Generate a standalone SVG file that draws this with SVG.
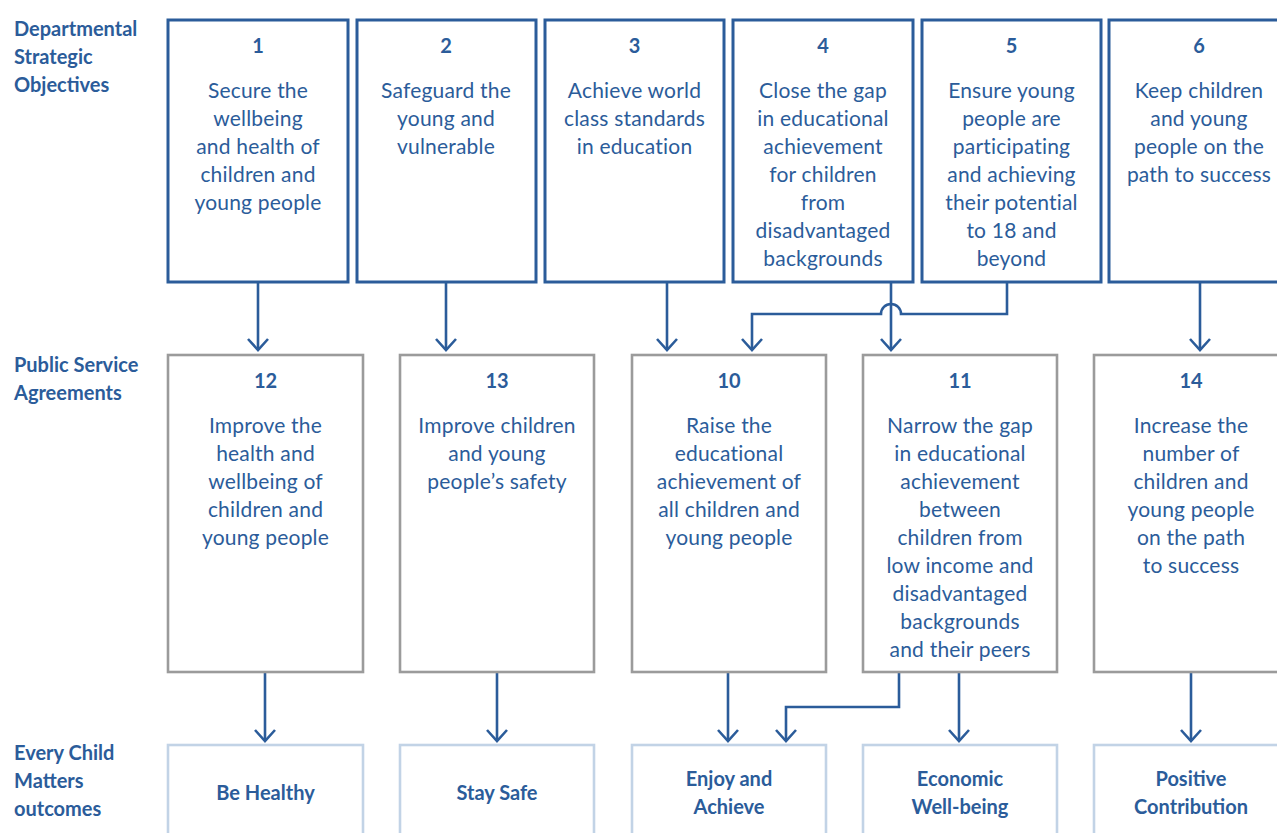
<svg xmlns="http://www.w3.org/2000/svg" width="1277" height="833" viewBox="0 0 1277 833">
<defs>
<style>
.bg{fill:#ffffff}
.top{fill:#fff;stroke:#2b5c9a;stroke-width:3}
.mid{fill:#fff;stroke:#9b9b9b;stroke-width:2.6}
.bot{fill:#fff;stroke:#c2d3e6;stroke-width:2.6}
.t{font-family:Lato,"Noto Sans",sans-serif;font-size:21px;fill:#2b5c9a;text-anchor:middle;letter-spacing:0.2px}
.n{font-family:Lato,"Noto Sans",sans-serif;font-size:20px;font-weight:bold;fill:#2b5c9a;text-anchor:middle}
.b{font-family:Lato,"Noto Sans",sans-serif;font-size:20px;font-weight:bold;fill:#2b5c9a;text-anchor:middle}
.lab{font-family:Lato,"Noto Sans",sans-serif;font-size:20px;font-weight:bold;fill:#2b5c9a}
.c{fill:none;stroke:#2b5c9a;stroke-width:2.6}
</style>
<marker id="ah" markerUnits="userSpaceOnUse" viewBox="-13 -12 16 24" refX="0" refY="0" markerWidth="16" markerHeight="24" orient="auto">
<path d="M-11,-10 L0,0 L-11,10" fill="none" stroke="#2b5c9a" stroke-width="2.6"/>
</marker>
</defs>
<rect class="bg" x="0" y="0" width="1277" height="833"/>

<g id="labels">
<text class="lab" x="14" y="36">Departmental</text>
<text class="lab" x="14" y="64">Strategic</text>
<text class="lab" x="14" y="92">Objectives</text>
<text class="lab" x="14" y="372">Public Service</text>
<text class="lab" x="14" y="400">Agreements</text>
<text class="lab" x="14" y="760">Every Child</text>
<text class="lab" x="14" y="788">Matters</text>
<text class="lab" x="14" y="816">outcomes</text>
</g>

<g id="connectors">
<path class="c" marker-end="url(#ah)" d="M258,282 V350"/>
<path class="c" marker-end="url(#ah)" d="M446,282 V350"/>
<path class="c" marker-end="url(#ah)" d="M667,282 V350"/>
<path class="c" marker-end="url(#ah)" d="M891,282 V350"/>
<path class="c" marker-end="url(#ah)" d="M1007,282 V314 H901 A10,10 0 0 0 881,314 H752 V350"/>
<path class="c" marker-end="url(#ah)" d="M1200,282 V350"/>
<path class="c" marker-end="url(#ah)" d="M265,672 V741"/>
<path class="c" marker-end="url(#ah)" d="M497,672 V741"/>
<path class="c" marker-end="url(#ah)" d="M728,672 V741"/>
<path class="c" marker-end="url(#ah)" d="M899,672 V707 H786 V741"/>
<path class="c" marker-end="url(#ah)" d="M959,672 V741"/>
<path class="c" marker-end="url(#ah)" d="M1191,672 V741"/>
</g>

<g id="dso1">
<rect class="top" x="168" y="20" width="180" height="262"/>
<text class="n" x="258" y="53">1</text>
<text class="t" x="258" y="98">Secure the</text>
<text class="t" x="258" y="126">wellbeing</text>
<text class="t" x="258" y="154">and health of</text>
<text class="t" x="258" y="182">children and</text>
<text class="t" x="258" y="210">young people</text>
</g>
<g id="dso2">
<rect class="top" x="357" y="20" width="179" height="262"/>
<text class="n" x="446" y="53">2</text>
<text class="t" x="446" y="98">Safeguard the</text>
<text class="t" x="446" y="126">young and</text>
<text class="t" x="446" y="154">vulnerable</text>
</g>
<g id="dso3">
<rect class="top" x="545" y="20" width="179" height="262"/>
<text class="n" x="634.5" y="53">3</text>
<text class="t" x="634.5" y="98">Achieve world</text>
<text class="t" x="634.5" y="126">class standards</text>
<text class="t" x="634.5" y="154">in education</text>
</g>
<g id="dso4">
<rect class="top" x="733" y="20" width="180" height="262"/>
<text class="n" x="823" y="53">4</text>
<text class="t" x="823" y="98">Close the gap</text>
<text class="t" x="823" y="126">in educational</text>
<text class="t" x="823" y="154">achievement</text>
<text class="t" x="823" y="182">for children</text>
<text class="t" x="823" y="210">from</text>
<text class="t" x="823" y="238">disadvantaged</text>
<text class="t" x="823" y="266">backgrounds</text>
</g>
<g id="dso5">
<rect class="top" x="922" y="20" width="179" height="262"/>
<text class="n" x="1011.5" y="53">5</text>
<text class="t" x="1011.5" y="98">Ensure young</text>
<text class="t" x="1011.5" y="126">people are</text>
<text class="t" x="1011.5" y="154">participating</text>
<text class="t" x="1011.5" y="182">and achieving</text>
<text class="t" x="1011.5" y="210">their potential</text>
<text class="t" x="1011.5" y="238">to 18 and</text>
<text class="t" x="1011.5" y="266">beyond</text>
</g>
<g id="dso6">
<rect class="top" x="1109" y="20" width="180" height="262"/>
<text class="n" x="1199" y="53">6</text>
<text class="t" x="1199" y="98">Keep children</text>
<text class="t" x="1199" y="126">and young</text>
<text class="t" x="1199" y="154">people on the</text>
<text class="t" x="1199" y="182">path to success</text>
</g>

<g id="psa12">
<rect class="mid" x="168" y="355" width="195" height="317"/>
<text class="n" x="265.5" y="388">12</text>
<text class="t" x="265.5" y="433">Improve the</text>
<text class="t" x="265.5" y="461">health and</text>
<text class="t" x="265.5" y="489">wellbeing of</text>
<text class="t" x="265.5" y="517">children and</text>
<text class="t" x="265.5" y="545">young people</text>
</g>
<g id="psa13">
<rect class="mid" x="400" y="355" width="194" height="317"/>
<text class="n" x="497" y="388">13</text>
<text class="t" x="497" y="433">Improve children</text>
<text class="t" x="497" y="461">and young</text>
<text class="t" x="497" y="489">people’s safety</text>
</g>
<g id="psa10">
<rect class="mid" x="632" y="355" width="194" height="317"/>
<text class="n" x="729" y="388">10</text>
<text class="t" x="729" y="433">Raise the</text>
<text class="t" x="729" y="461">educational</text>
<text class="t" x="729" y="489">achievement of</text>
<text class="t" x="729" y="517">all children and</text>
<text class="t" x="729" y="545">young people</text>
</g>
<g id="psa11">
<rect class="mid" x="863" y="355" width="194" height="317"/>
<text class="n" x="960" y="388">11</text>
<text class="t" x="960" y="433">Narrow the gap</text>
<text class="t" x="960" y="461">in educational</text>
<text class="t" x="960" y="489">achievement</text>
<text class="t" x="960" y="517">between</text>
<text class="t" x="960" y="545">children from</text>
<text class="t" x="960" y="573">low income and</text>
<text class="t" x="960" y="601">disadvantaged</text>
<text class="t" x="960" y="629">backgrounds</text>
<text class="t" x="960" y="657">and their peers</text>
</g>
<g id="psa14">
<rect class="mid" x="1094" y="355" width="195" height="317"/>
<text class="n" x="1191" y="388">14</text>
<text class="t" x="1191" y="433">Increase the</text>
<text class="t" x="1191" y="461">number of</text>
<text class="t" x="1191" y="489">children and</text>
<text class="t" x="1191" y="517">young people</text>
<text class="t" x="1191" y="545">on the path</text>
<text class="t" x="1191" y="573">to success</text>
</g>

<g id="ecm-healthy">
<rect class="bot" x="168" y="745" width="195" height="120"/>
<text class="b" x="265.5" y="800">Be Healthy</text>
</g>
<g id="ecm-safe">
<rect class="bot" x="400" y="745" width="194" height="120"/>
<text class="b" x="497" y="800">Stay Safe</text>
</g>
<g id="ecm-enjoy">
<rect class="bot" x="632" y="745" width="194" height="120"/>
<text class="b" x="729" y="786">Enjoy and</text>
<text class="b" x="729" y="814">Achieve</text>
</g>
<g id="ecm-economic">
<rect class="bot" x="863" y="745" width="194" height="120"/>
<text class="b" x="960" y="786">Economic</text>
<text class="b" x="960" y="814">Well-being</text>
</g>
<g id="ecm-positive">
<rect class="bot" x="1094" y="745" width="195" height="120"/>
<text class="b" x="1191" y="786">Positive</text>
<text class="b" x="1191" y="814">Contribution</text>
</g>
</svg>
